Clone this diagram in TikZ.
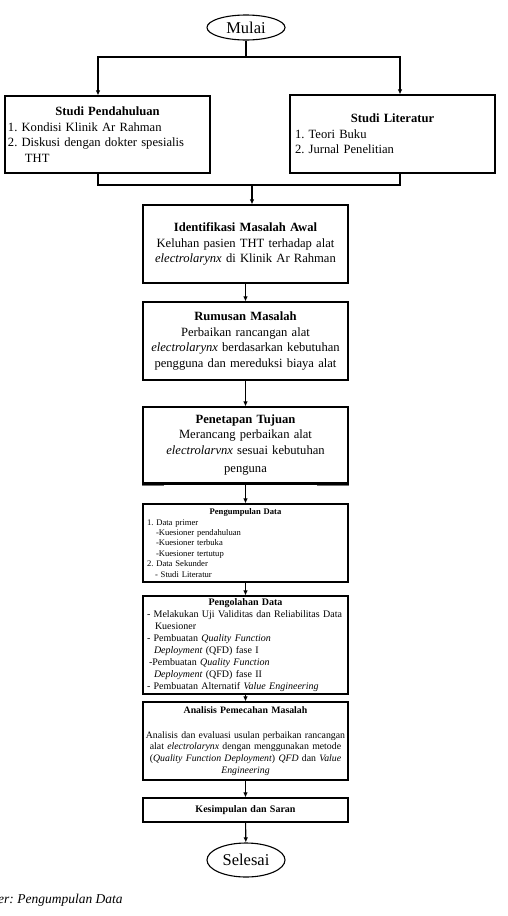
\documentclass[tikz,border=0pt]{standalone}
\usepackage{fontspec}
\setmainfont{Liberation Serif}
\usetikzlibrary{shapes.geometric,arrows.meta}
\setlength{\parindent}{0pt}
\frenchspacing
\definecolor{garis}{gray}{0.45}

\tikzset{
  kotak/.style={draw,line width=1.1pt,minimum width=205pt,inner xsep=3pt,inner ysep=0pt,text width=199pt},
  besar/.style={font=\fontsize{12.6}{15.5}\selectfont},
  sedang/.style={font=\fontsize{10}{12}\selectfont},
  kecil/.style={font=\fontsize{8.6}{10.4}\selectfont},
  oval/.style={draw,ellipse,line width=1.1pt,inner sep=0pt,minimum width=78pt,font=\fontsize{16.5}{18}\selectfont},
  panah/.style={-{Latex[length=5pt,width=4.5pt]},line width=1.1pt},
}
\newcommand{\judul}[1]{\makebox[\hsize]{\textbf{#1}}}

\begin{document}
\begin{tikzpicture}[x=1pt,y=-1pt]
    \useasboundingbox (0,0) rectangle (507,916);
    \node [oval,minimum height=25pt] (mulai) at (246,27.5) {Mulai};
    \node [kotak,besar,align=left,minimum height=77pt] (pendahuluan) at (107.5,134.5) {\judul{Studi Pendahuluan}\\1. Kondisi Klinik Ar Rahman\\2. Diskusi dengan dokter spesialis\\\hspace*{17pt}THT};
    \node [kotak,besar,align=left,minimum height=78pt,inner xsep=5pt,text width=195pt] (literatur) at (392.5,134) {\judul{Studi Literatur}\\1. Teori Buku\\2. Jurnal Penelitian};
    \node [kotak,besar,align=center,minimum height=78pt] (identifikasi) at (245.5,244) {\textbf{Identifikasi Masalah Awal}\\Keluhan pasien THT terhadap alat\\\textit{electrolarynx} di Klinik Ar Rahman};
    \node [kotak,besar,align=center,minimum height=78pt] (rumusan) at (245.5,341) {\textbf{Rumusan Masalah}\\Perbaikan rancangan alat\\\textit{electrolarynx} berdasarkan kebutuhan\\pengguna dan mereduksi biaya alat};
    \node [kotak,besar,align=center,minimum height=76pt] (tujuan) at (245.5,445) {\textbf{Penetapan Tujuan}\\Merancang perbaikan alat\\\textit{electrolarvnx} sesuai kebutuhan\\[3pt]penguna};
    \node [kotak,kecil,align=left,minimum height=78pt,inner xsep=4pt,text width=197pt] (pengumpulan) at (245.5,543) {\judul{Pengumpulan Data}\\1. Data primer\\\hspace*{9pt}-Kuesioner pendahuluan\\\hspace*{9pt}-Kuesioner terbuka\\\hspace*{9pt}-Kuesioner tertutup\\2. Data Sekunder\\\hspace*{8pt}- Studi Literatur};
    \node [kotak,sedang,align=left,minimum height=98pt,inner xsep=4pt,text width=197pt] (pengolahan) at (245.5,645) {\judul{Pengolahan Data}\\\makebox[\hsize][s]{- Melakukan Uji Validitas dan Reliabilitas Data}\\\hspace*{8pt}Kuesioner\\- Pembuatan \textit{Quality Function}\\\hspace*{7pt}\textit{Deployment} (QFD) fase I\\\hspace*{2pt}-Pembuatan \textit{Quality Function}\\\hspace*{7pt}\textit{Deployment} (QFD) fase II\\- Pembuatan Alternatif \textit{Value Engineering}};
    \node [kotak,align=center,minimum height=78pt,inner xsep=1pt,text width=203pt,font=\fontsize{9.8}{11.8}\selectfont] (analisis) at (245.5,741) {\textbf{Analisis Pemecahan Masalah}\\[13pt]\mbox{Analisis dan evaluasi usulan perbaikan rancangan}\\\mbox{alat \textit{electrolarynx} dengan menggunakan metode}\\\mbox{(\textit{Quality Function Deployment}) \textit{QFD} dan \textit{Value}}\\\textit{Engineering}};
    \node [kotak,sedang,align=center,minimum height=24pt] (kesimpulan) at (245.5,810) {\textbf{Kesimpulan dan Saran}};
    \node [oval,minimum height=34pt] (selesai) at (246,860) {Selesai};
    \node [anchor=base west,inner sep=0pt,font=\fontsize{13.5}{15}\selectfont\itshape] (sumber) at (-2,903) {er: Pengumpulan Data};
    % cabang atas dan gabungan
    \coordinate (bagi) at (246,57);
    \coordinate (gabung) at (252,185);
    \draw [line width=1.1pt] (mulai.south) -- (bagi);
    \draw [panah] (bagi) -| ([xshift=-9.5pt]pendahuluan.north);
    \draw [panah] (bagi) -| ([xshift=7.5pt]literatur.north);
    \draw [line width=1.1pt] ([xshift=-9.5pt]pendahuluan.south) |- (gabung);
    \draw [line width=1.1pt] ([xshift=7.5pt]literatur.south) |- (gabung);
    \draw [panah] (gabung) -- ([xshift=6.5pt]identifikasi.north);
    % alur tengah
    \draw [panah] (identifikasi) -- (rumusan);
    \draw [panah] (rumusan) -- (tujuan);
    \draw [panah] (tujuan) -- (pengumpulan);
    \draw [panah] (pengumpulan) -- (pengolahan);
    \draw [panah] (pengolahan) -- (analisis);
    \draw [panah] (analisis) -- (kesimpulan);
    \draw [panah] (kesimpulan) -- (selesai);
    % garis bawah tebal kotak tujuan
    \draw [line width=2pt] (tujuan.south west) -- (tujuan.south east);
    \draw [garis,line width=1pt] ([yshift=-2pt]tujuan.south west) -- ++(22,0);
    \draw [garis,line width=1pt] ([yshift=-2pt]tujuan.south east) -- ++(-32,0);
\end{tikzpicture}
\end{document}
